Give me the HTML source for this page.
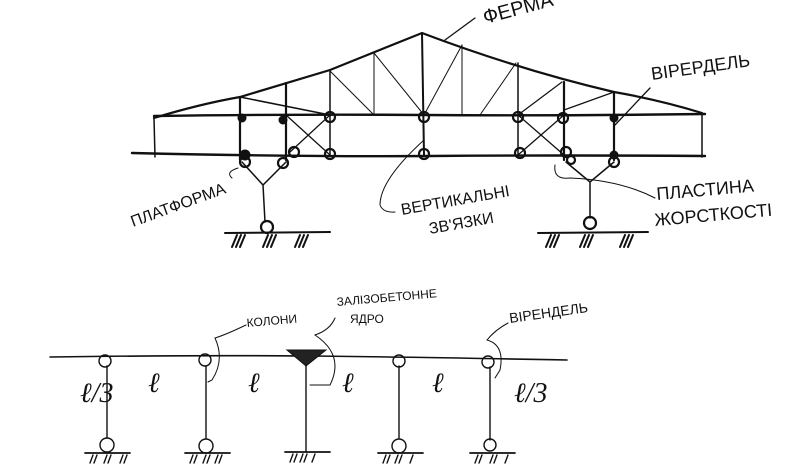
<!DOCTYPE html>
<html><head><meta charset="utf-8"><style>
html,body{margin:0;padding:0;background:#fff;}
svg{display:block;}
text{font-family:"Liberation Sans",sans-serif;fill:#111;}
</style></head><body>
<svg width="798" height="465" viewBox="0 0 798 465" xmlns="http://www.w3.org/2000/svg">
<g stroke="#111" fill="none" stroke-linecap="round">
<path d="M154,118 Q200,104 240,97 L330,70 L422,33 Q520,70 614,92 Q660,100 702,113" stroke-width="2.2"/>
<path d="M154,116 Q300,114 424,115 T705,114" stroke-width="2.4"/>
<path d="M132,153 Q300,157 430,156 T705,156" stroke-width="2.4"/>
<line x1="154" y1="118" x2="155" y2="157" stroke-width="1.5"/>
<line x1="702" y1="113" x2="702" y2="157" stroke-width="1.5"/>
<line x1="240" y1="97" x2="240" y2="160" stroke-width="2.2"/>
<line x1="286" y1="83" x2="286" y2="160" stroke-width="2.2"/>
<line x1="564" y1="82" x2="564" y2="160" stroke-width="2.2"/>
<line x1="614" y1="92" x2="614" y2="160" stroke-width="2.2"/>
<line x1="330" y1="70" x2="330" y2="155" stroke-width="1.5"/>
<line x1="518" y1="63" x2="518" y2="155" stroke-width="1.5"/>
<line x1="422" y1="33" x2="424" y2="155" stroke-width="2"/>
<line x1="374" y1="53" x2="374" y2="115" stroke-width="1"/>
<line x1="462" y1="45" x2="462" y2="115" stroke-width="1"/>
<line x1="240" y1="97" x2="330" y2="115" stroke-width="1.5"/>
<line x1="329" y1="70" x2="374" y2="115" stroke-width="1"/>
<line x1="374" y1="53" x2="424" y2="115" stroke-width="1"/>
<line x1="462" y1="45" x2="424" y2="115" stroke-width="1"/>
<line x1="516" y1="63" x2="480" y2="115" stroke-width="1"/>
<line x1="562" y1="82" x2="518" y2="115" stroke-width="1.2"/>
<line x1="614" y1="92" x2="564" y2="110" stroke-width="1.2"/>
<line x1="286" y1="115" x2="330" y2="155" stroke-width="1.3"/>
<line x1="330" y1="115" x2="290" y2="152" stroke-width="1.3"/>
<line x1="518" y1="115" x2="564" y2="155" stroke-width="1.3"/>
<line x1="564" y1="115" x2="518" y2="155" stroke-width="1.3"/>
<path d="M242,162 L263,185 L286,162 M263,185 L265,222" stroke-width="1.5"/>
<path d="M566,162 L590,182 L614,162 M590,182 L590,218" stroke-width="1.5"/>
<path d="M225,233 L330,232 M232,247 l5,-12 M236,247 l5,-12 M240,247 l5,-12 M263,247 l5,-12 M267,247 l5,-12 M271,247 l5,-12 M295,247 l5,-12 M299,247 l5,-12 M303,247 l5,-12" stroke-width="2"/>
<path d="M538,233 L648,232 M546,247 l5,-12 M550,247 l5,-12 M554,247 l5,-12 M580,247 l5,-12 M584,247 l5,-12 M588,247 l5,-12 M620,247 l5,-12 M624,247 l5,-12 M628,247 l5,-12" stroke-width="2"/>
<g stroke-width="2.2">
<circle cx="330" cy="117" r="5"/><circle cx="330" cy="154" r="5"/><circle cx="294" cy="152" r="5"/>
<circle cx="424" cy="117" r="5"/><circle cx="424" cy="154" r="5"/>
<circle cx="518" cy="117" r="5"/><circle cx="520" cy="153" r="5"/>
<circle cx="563" cy="118" r="5"/><circle cx="566" cy="152" r="5"/>
<circle cx="283" cy="163" r="5"/><circle cx="245" cy="162" r="5"/>
<circle cx="571" cy="160" r="4"/><circle cx="614" cy="162" r="5"/>
<circle cx="267" cy="227" r="6"/><circle cx="590" cy="223" r="6"/>
</g>
<g fill="#111" stroke="none">
<circle cx="242" cy="118" r="4.5"/><circle cx="283" cy="120" r="4.5"/><circle cx="245" cy="155" r="5.5"/>
<circle cx="614" cy="118" r="4.5"/><circle cx="614" cy="155" r="4.5"/>
</g>
<path d="M445,40 L475,18" stroke-width="1.3"/>
<path d="M615,125 L650,88" stroke-width="1.3"/>
<path d="M424,140 Q380,180 380,205 Q383,213 395,212" stroke-width="1"/>
<path d="M555,165 Q553,180 570,178 Q620,180 655,198" stroke-width="1"/>
<path d="M238,168 Q225,172 232,178" stroke-width="1"/>
<path d="M50,357 Q200,355 306,356 T567,360" stroke-width="1.6"/>
<g stroke-width="1.4">
<line x1="107" y1="366" x2="107" y2="438"/><line x1="206" y1="366" x2="206" y2="438"/>
<line x1="306" y1="366" x2="306" y2="452"/><line x1="399" y1="366" x2="399" y2="438"/>
<line x1="490" y1="367" x2="490" y2="440"/>
<circle cx="105" cy="361" r="6"/><circle cx="205" cy="360" r="6"/><circle cx="399" cy="361" r="6"/><circle cx="488" cy="362" r="6"/>
<circle cx="107" cy="445" r="7"/><circle cx="206" cy="446" r="7"/><circle cx="399" cy="446" r="7"/><circle cx="490" cy="445" r="6"/>
<path d="M85,453h45 M185,453h45 M285,452h45 M378,453h45 M470,453h45" stroke-width="1.8"/>
<path d="M90,463l3,-8 M94,463l3,-8 M104,463l3,-8 M108,463l3,-8 M120,463l3,-8 M124,463l3,-8 M190,463l3,-8 M194,463l3,-8 M203,463l3,-8 M207,463l3,-8 M215,463l3,-8 M219,463l3,-8 M290,462l3,-8 M294,462l3,-8 M300,462l3,-8 M304,462l3,-8 M312,462l3,-8 M383,463l3,-8 M387,463l3,-8 M395,463l3,-8 M399,463l3,-8 M410,463l3,-8 M475,463l3,-8 M479,463l3,-8 M490,463l3,-8 M494,463l3,-8 M505,463l3,-8"/>
<path d="M246,325 Q225,335 215,338 Q225,360 212,380 L208,382" stroke-width="1"/>
<path d="M335,318 Q330,330 315,335 Q345,355 330,385 L310,385" stroke-width="1"/>
<path d="M508,323 Q495,330 487,340 Q505,345 500,370 L495,378" stroke-width="1"/>
</g>
<path d="M287,350 L326,350 L306,366 Z" fill="#222" stroke="#111" stroke-width="1"/>
</g>
<g font-size="16">
<text x="485" y="24" transform="rotate(-15 485 24)" font-size="20">ФЕРМА</text>
<text x="652" y="80" transform="rotate(-8 652 80)" font-size="18">ВІРЕРДЕЛЬ</text>
<text x="133" y="227" transform="rotate(-20 133 227)">ПЛАТФОРМА</text>
<text x="402" y="215" transform="rotate(-10 402 215)">ВЕРТИКАЛЬНІ</text>
<text x="430" y="234" transform="rotate(-10 430 234)">ЗВ'ЯЗКИ</text>
<text x="657" y="200" transform="rotate(-5 657 200)" font-size="18">ПЛАСТИНА</text>
<text x="655" y="226" transform="rotate(-5 655 226)" font-size="18">ЖОРСТКОСТІ</text>
</g>
<g font-size="12">
<text x="247" y="327" transform="rotate(-5 247 327)">КОЛОНИ</text>
<text x="337" y="306" transform="rotate(-5 337 306)">ЗАЛІЗОБЕТОННЕ</text>
<text x="350" y="323">ЯДРО</text>
<text x="510" y="323" transform="rotate(-8 510 323)" font-size="14">ВІРЕНДЕЛЬ</text>
</g>
<g font-style="italic" font-size="28" fill="#111">
<text x="80" y="402" style="font-family:'Liberation Serif',serif">ℓ/3</text>
<text x="148" y="392" style="font-family:'Liberation Serif',serif">ℓ</text>
<text x="248" y="392" style="font-family:'Liberation Serif',serif">ℓ</text>
<text x="342" y="392" style="font-family:'Liberation Serif',serif">ℓ</text>
<text x="432" y="392" style="font-family:'Liberation Serif',serif">ℓ</text>
<text x="514" y="402" style="font-family:'Liberation Serif',serif">ℓ/3</text>
</g>
</svg>
</body></html>
